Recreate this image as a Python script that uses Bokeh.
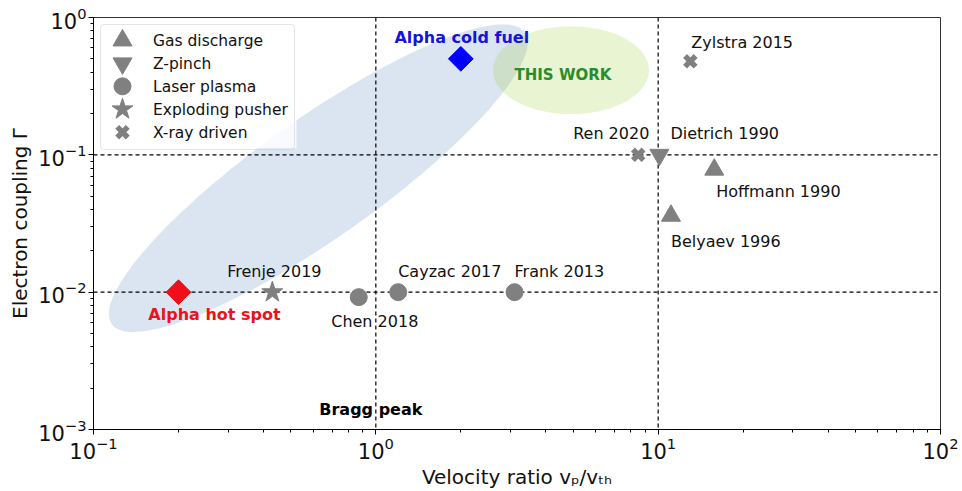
import numpy as np
from bokeh.plotting import figure
from bokeh.models import Range1d, Span, Legend, LegendItem, LinearScale
from bokeh.core.properties import value
from bokeh.embed import file_html
from bokeh.resources import INLINE

FONT = "DejaVu Sans"

# ---------------- data ----------------
gas_names = ["Hoffmann 1990", "Belyaev 1996"]
gas_v = [15.8, 11.1]
gas_g = [0.078, 0.036]

zpinch_names = ["Dietrich 1990"]
zpinch_v = [10.1]
zpinch_g = [0.1]

laser_names = ["Chen 2018", "Cayzac 2017", "Frank 2013"]
laser_v = [0.87, 1.2, 3.1]
laser_g = [0.0092, 0.01, 0.01]

pusher_names = ["Frenje 2019"]
pusher_v = [0.43]
pusher_g = [0.01]

xray_names = ["Ren 2020", "Zylstra 2015"]
xray_v = [8.5, 13.0]
xray_g = [0.1, 0.48]

alpha_names = ["Alpha cold fuel", "Alpha hot spot"]
alpha_v = [2.0, 0.2]
alpha_g = [0.5, 0.01]

ref_v = [1, 10]        # vertical dashed reference lines
ref_g = [0.1, 0.01]    # horizontal dashed reference lines

legend_labels = ["Gas discharge", "Z-pinch", "Laser plasma", "Exploding pusher", "X-ray driven"]

bragg_label = "Bragg peak"
bragg_pos = (1.0, 0.0014)
this_work_label = "THIS WORK"

# ---------------- styling ----------------
GRAY = "#808080"
W, H = 962, 491
BL, BR, BT, BB = 93, 22, 17, 61
FW, FH = W - BL - BR, H - BT - BB
PX_X = FW / 3.0   # pixels per decade (x)
PX_Y = FH / 3.0   # pixels per decade (y)

marker_styles = [
    dict(marker="triangle", size=19, fill_color=GRAY, line_color=GRAY),
    dict(marker="inverted_triangle", size=19, fill_color=GRAY, line_color=GRAY),
    dict(marker="circle", size=17, fill_color=GRAY, line_color=GRAY),
    dict(marker="star", size=22, fill_color=GRAY, line_color=GRAY),
    dict(marker="x", size=15, line_color=GRAY, line_width=5.5),
]


def ellipse_patch(clx, cly, a_px, b_px, ang_deg, n=200):
    t = np.linspace(0, 2 * np.pi, n)
    th = np.deg2rad(ang_deg)
    dx = a_px * np.cos(t) * np.cos(th) - b_px * np.sin(t) * np.sin(th)
    dy = a_px * np.cos(t) * np.sin(th) + b_px * np.sin(t) * np.cos(th)
    return 10 ** (clx + dx / PX_X), 10 ** (cly + dy / PX_Y)


p = figure(width=W, height=H, x_axis_type="log", y_axis_type="log",
           x_range=Range1d(0.1, 100), y_range=Range1d(0.001, 1),
           output_backend="svg", toolbar_location=None,
           min_border_left=BL, min_border_right=BR, min_border_top=BT, min_border_bottom=BB)
p.extra_x_ranges = {"px": Range1d(0, FW)}
p.extra_y_ranges = {"px": Range1d(0, FH)}
p.extra_x_scales = {"px": LinearScale()}
p.extra_y_scales = {"px": LinearScale()}
p.xgrid.visible = False
p.ygrid.visible = False
p.outline_line_color = "black"
p.outline_line_width = 1
p.outline_line_alpha = 0.8
p.background_fill_color = "white"
p.border_fill_color = "white"

# shaded regions
bx, by = ellipse_patch(-0.204, -1.170, 253, 60, 35.3)
r_blue = p.patch(bx, by, fill_color="#4a7bbf", fill_alpha=0.2, line_color=None)
r_blue.level = "underlay"
gx, gy = ellipse_patch(0.691, -0.384, 78, 44, 0)
r_green = p.patch(gx, gy, fill_color="#9acd32", fill_alpha=0.22, line_color=None)
r_green.level = "underlay"

for v in ref_v:
    p.add_layout(Span(location=v, dimension="height", line_color="black",
                      line_dash="4 3", line_width=1.2, level="underlay"))
for g in ref_g:
    p.add_layout(Span(location=g, dimension="width", line_color="black",
                      line_dash="4 3", line_width=1.2, level="underlay"))

# legend geometry (screen pixels inside the frame)
L_MARGIN, L_PAD, L_GW, L_H, L_SP, L_W = 7, 6, 32, 20, 3, 196
n_items = len(legend_labels)
box_h = 2 * L_PAD + n_items * L_H + (n_items - 1) * L_SP
# semi-opaque legend background (drawn below the key symbols)
p.quad(left=[L_MARGIN], right=[L_MARGIN + L_W], top=[FH - L_MARGIN],
       bottom=[FH - L_MARGIN - box_h], x_range_name="px", y_range_name="px",
       fill_color="white", fill_alpha=0.8, line_color=None)

series_v = [gas_v, zpinch_v, laser_v, pusher_v, xray_v]
series_g = [gas_g, zpinch_g, laser_g, pusher_g, xray_g]
for xs, ys, st in zip(series_v, series_g, marker_styles):
    p.scatter(xs, ys, **st)

p.scatter([alpha_v[0]], [alpha_g[0]], marker="square", angle=np.pi / 4, size=17.5,
          color="#0000ff")
p.scatter([alpha_v[1]], [alpha_g[1]], marker="square", angle=np.pi / 4, size=17.5,
          color="#ee0f1a")

# labels: name -> (x_offset, y_offset, align)
offsets = {
    "Hoffmann 1990": (2, 22, "left"),
    "Belyaev 1996": (0, 26, "left"),
    "Dietrich 1990": (11, -21, "left"),
    "Chen 2018": (16, 24, "center"),
    "Cayzac 2017": (0, -21, "left"),
    "Frank 2013": (0, -21, "left"),
    "Frenje 2019": (2, -21, "center"),
    "Ren 2020": (-27, -21, "center"),
    "Zylstra 2015": (1, -19, "left"),
}
all_names = gas_names + zpinch_names + laser_names + pusher_names + xray_names
all_v = gas_v + zpinch_v + laser_v + pusher_v + xray_v
all_g = gas_g + zpinch_g + laser_g + pusher_g + xray_g
for nm, xv, yv in zip(all_names, all_v, all_g):
    xo, yo, al = offsets[nm]
    p.text([xv], [yv], text=[nm], x_offset=xo, y_offset=yo, text_align=al,
           text_baseline="middle", text_font=value(FONT), text_font_size="16px",
           text_color="#111111")

p.text([alpha_v[0]], [alpha_g[0]], text=[alpha_names[0]], x_offset=1, y_offset=-21,
       text_align="center", text_baseline="middle", text_font=value(FONT),
       text_font_size="16px", text_font_style="bold", text_color="#1414dc")
p.text([alpha_v[1]], [alpha_g[1]], text=[alpha_names[1]], x_offset=36, y_offset=22,
       text_align="center", text_baseline="middle", text_font=value(FONT),
       text_font_size="16px", text_font_style="bold", text_color="#e8141c")
p.text([10 ** 0.691], [10 ** -0.384], text=[this_work_label], x_offset=-8, y_offset=5,
       text_align="center", text_baseline="middle", text_font=value(FONT),
       text_font_size="15px", text_font_style="bold", text_color="#2a8c2a")
p.text([bragg_pos[0]], [bragg_pos[1]], text=[bragg_label], x_offset=-5, y_offset=0,
       text_align="center", text_baseline="middle", text_font=value(FONT),
       text_font_size="16px", text_font_style="bold", text_color="black")

# legend: Bokeh draws the border and labels; the (larger) key symbols are drawn separately
proxies = []
for st in marker_styles:
    st2 = {k: v for k, v in st.items() if k not in ("fill_color", "line_color")}
    proxies.append(p.scatter([], [], fill_alpha=0, line_alpha=0, **st2))
legend = Legend(items=[LegendItem(label=lb, renderers=[r]) for lb, r in zip(legend_labels, proxies)],
                location="top_left")
legend.label_text_font = FONT
legend.label_text_font_size = "15.5px"
legend.label_text_color = "#111111"
legend.glyph_width = L_GW
legend.glyph_height = L_H
legend.label_height = L_H
legend.spacing = L_SP
legend.padding = L_PAD
legend.margin = L_MARGIN
legend.label_standoff = 14
legend.border_line_color = "#cccccc"
legend.border_line_width = 1
legend.border_radius = 4
legend.background_fill_alpha = 0.0
p.add_layout(legend)

key_x = L_MARGIN + L_PAD + L_GW / 2
for i, st in enumerate(marker_styles):
    key_y = FH - (L_MARGIN + L_PAD + i * (L_H + L_SP) + L_H / 2)
    p.scatter([key_x], [key_y], x_range_name="px", y_range_name="px", **st)

for ax in (p.xaxis[0], p.yaxis[0]):
    ax.axis_label_text_font = FONT
    ax.axis_label_text_font_size = "20px"
    ax.axis_label_text_font_style = "normal"
    ax.axis_label_text_color = "#111111"
    ax.major_label_text_font = FONT
    ax.major_label_text_font_size = "21px"
    ax.major_label_text_color = "#111111"
    ax.major_tick_in = 0
    ax.major_tick_out = 5
    ax.minor_tick_in = 0
    ax.minor_tick_out = 3
    ax.axis_line_color = "black"
    ax.major_tick_line_color = "black"
    ax.minor_tick_line_color = "black"
    ax.major_label_standoff = 2
    ax.axis_label_standoff = 3

p.xaxis.axis_label = "Velocity ratio vₚ/vₜₕ"
p.yaxis.axis_label = "Electron coupling Γ"

open("out.html", "w").write(file_html(p, INLINE))
